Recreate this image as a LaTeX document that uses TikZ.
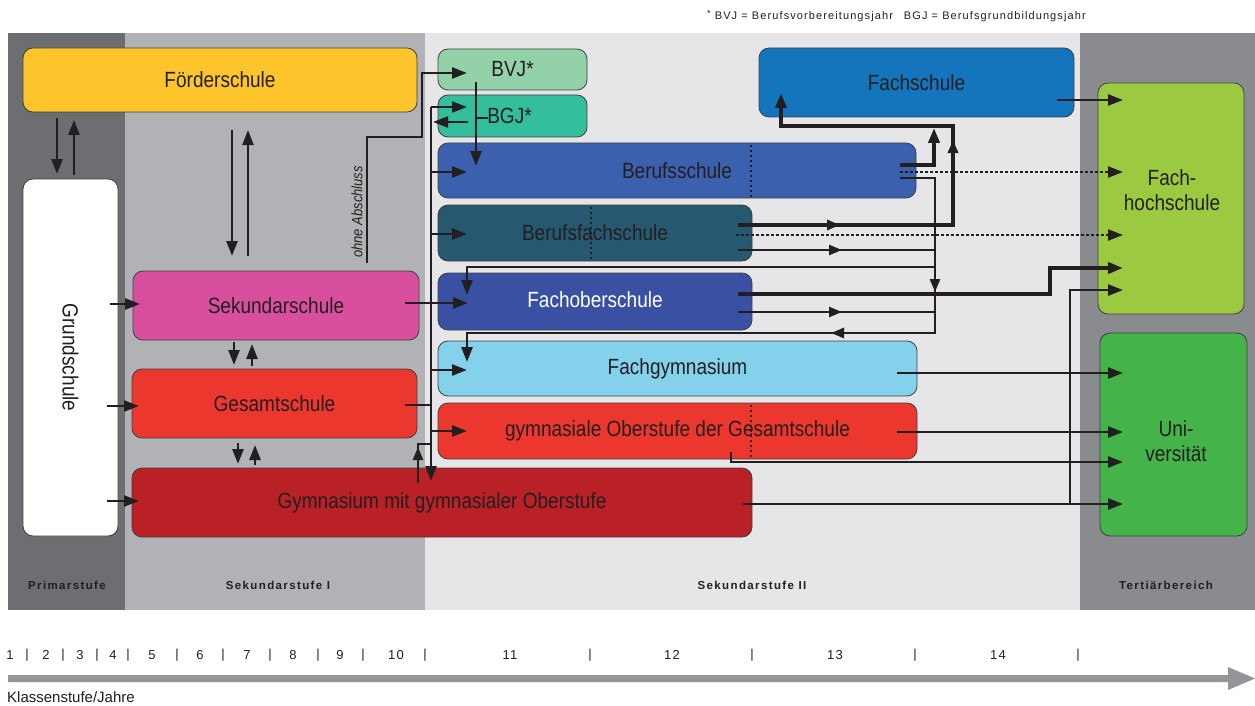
\documentclass[tikz,border=0pt]{standalone}
\usepackage{fontspec}
\setmainfont{Liberation Sans}
\newfontfamily\boxfont[FakeStretch=0.865]{Liberation Sans}
\newfontfamily\smallfont[LetterSpace=10]{Liberation Sans}
\newfontfamily\bandfont[LetterSpace=12]{Liberation Sans}
\usetikzlibrary{arrows.meta,decorations.markings}
\definecolor{primar}{HTML}{6D6E71}
\definecolor{sekone}{HTML}{B1B2B5}
\definecolor{sektwo}{HTML}{E6E6E8}
\definecolor{tert}{HTML}{8A8B8E}
\definecolor{txt}{HTML}{231F20}
\definecolor{ln}{HTML}{231F20}
\definecolor{boxline}{HTML}{404040}
\definecolor{cfoerder}{HTML}{FDC52B}
\definecolor{cbvj}{HTML}{93D2A9}
\definecolor{cbgj}{HTML}{33BE9C}
\definecolor{cbs}{HTML}{3A60AE}
\definecolor{cbfs}{HTML}{26586F}
\definecolor{cfos}{HTML}{3A50A3}
\definecolor{cfgym}{HTML}{84D1EC}
\definecolor{cred}{HTML}{EC372E}
\definecolor{cgym}{HTML}{B92126}
\definecolor{csek}{HTML}{D8509D}
\definecolor{cfs}{HTML}{1475BC}
\definecolor{cfh}{HTML}{9BCA41}
\definecolor{cuni}{HTML}{44B44A}
\definecolor{cbar}{HTML}{939598}
\begin{document}
\begin{tikzpicture}[x=1pt,y=-1pt,
  schoolbox/.style={draw=boxline, line width=0.8pt, rounded corners=10pt, inner sep=0pt, text=txt, font=\boxfont\fontsize{22}{25}\selectfont, align=center},
  boxtext/.style={text=txt, font=\boxfont\fontsize{22}{25}\selectfont, align=center, inner sep=0pt},
  connline/.style={line width=2.6pt, color=ln},
  thickline/.style={line width=3.8pt, color=ln},
  endarrow/.style={-{Triangle[length=15pt,width=11pt]}},
  dotconn/.style={line width=2.4pt, color=ln, dash pattern=on 3pt off 2pt},
  dotsep/.style={line width=1.6pt, color=ln, dash pattern=on 2pt off 3pt},
  midarrow/.style={postaction={decorate}, decoration={markings, mark=at position #1 with {\arrow{Triangle[length=13pt,width=10pt]}}}},
  midarrowtwo/.style 2 args={postaction={decorate}, decoration={markings, mark=at position #1 with {\arrow{Triangle[length=13pt,width=10pt]}}, mark=at position #2 with {\arrow{Triangle[length=13pt,width=10pt]}}}},
  bandlabel/.style={font=\bandfont\bfseries\fontsize{11.5}{13}\selectfont, text=txt},
  numlabel/.style={font=\smallfont\fontsize{13}{15}\selectfont, text=txt},
]
\useasboundingbox (0,0) rectangle (1255,706);
\fill[white] (0,0) rectangle (1255,706);
% bands
\fill[primar] (8,33) rectangle (125,610);
\fill[sekone] (125,33) rectangle (425,610);
\fill[sektwo] (425,33) rectangle (1080,610);
\fill[tert] (1080,33) rectangle (1255,610);
\node[bandlabel] (lprim) at (67,585) {Primarstufe};
\node[bandlabel] (lsek1) at (278,585) {Sekundarstufe I};
\node[bandlabel] (lsek2) at (752,585) {Sekundarstufe II};
\node[bandlabel] (ltert) at (1166,585) {Tertiärbereich};
% footnote
\node[anchor=west, inner sep=0pt, text=txt, font=\smallfont\fontsize{11}{12}\selectfont] (foot) at (707,16) {\raisebox{3pt}{\fontsize{9}{9}\selectfont *} BVJ = Berufsvorbereitungsjahr\hspace{11pt}BGJ = Berufsgrundbildungsjahr};
% boxes
\node[schoolbox, fill=cfoerder, minimum width=394pt, minimum height=64pt] (foerder) at (220,80) {Förderschule};
\node[schoolbox, fill=white, rotate=-90, minimum width=357pt, minimum height=95pt] (grund) at (70.5,357.5) {Grundschule};
\node[schoolbox, fill=csek, minimum width=286pt, minimum height=69pt] (sek) at (276,305.5) {Sekundarschule};
\node[schoolbox, fill=cred, minimum width=285pt, minimum height=69pt] (ges) at (274.5,403.5) {Gesamtschule};
\node[schoolbox, fill=cgym, minimum width=620pt, minimum height=69pt] (gym) at (442,502.5) {Gymnasium mit gymnasialer Oberstufe};
\node[schoolbox, fill=cbvj, minimum width=149pt, minimum height=41pt] (bvj) at (512.5,69.5) {BVJ*};
\node[schoolbox, fill=cbgj, minimum width=149pt, minimum height=42pt] (bgj) at (512.5,116) {\hspace{2pt}BGJ*\hspace{8pt}};
\node[schoolbox, fill=cbs, minimum width=478pt, minimum height=55pt] (bs) at (677,170.5) {Berufsschule};
\node[schoolbox, fill=cbfs, minimum width=314pt, minimum height=56pt] (bfs) at (595,233) {Berufsfachschule};
\node[schoolbox, fill=cfos, minimum width=314pt, minimum height=57pt, text=white] (fos) at (595,301.5) {\raisebox{3pt}{Fachoberschule}};
\node[schoolbox, fill=cfgym, minimum width=479pt, minimum height=55pt] (fgym) at (677.5,368.5) {Fachgymnasium};
\node[schoolbox, fill=cred, minimum width=479pt, minimum height=56pt] (gyo) at (677.5,431) {gymnasiale Oberstufe der Gesamtschule};
\node[schoolbox, fill=cfs, minimum width=315pt, minimum height=69pt] (fs) at (916.5,82.5) {Fachschule};
\node[schoolbox, fill=cfh, minimum width=146pt, minimum height=231pt] (fh) at (1171,198.5) {};
\node[boxtext] (fhtext) at (1172,190) {Fach-\\hochschule};
\node[schoolbox, fill=cuni, minimum width=147pt, minimum height=203pt] (uni) at (1173.5,434.5) {};
\node[boxtext] (unitext) at (1176,441) {Uni-\\versität};
% dotted separators inside boxes
\draw[dotsep] (751,145) -- (751,197);
\draw[dotsep] (591,207) -- (591,260);
\draw[dotsep] (751,405) -- (751,459);
% ---------- left connectors
\coordinate (a1) at (57,118);  \coordinate (a2) at (57,174);
\coordinate (b1) at (74,175);  \coordinate (b2) at (74,120);
\coordinate (c1) at (232,130); \coordinate (c2) at (232,256);
\coordinate (d1) at (248,256); \coordinate (d2) at (248,130);
\coordinate (e1) at (234,342); \coordinate (e2) at (234,365);
\coordinate (f1) at (252,366); \coordinate (f2) at (252,344);
\coordinate (g1) at (238,443); \coordinate (g2) at (238,464);
\coordinate (h1) at (255,465); \coordinate (h2) at (255,445);
\draw[connline,endarrow] (a1) -- (a2);
\draw[connline,endarrow] (b1) -- (b2);
\draw[connline,endarrow] (c1) -- (c2);
\draw[connline,endarrow] (d1) -- (d2);
\draw[connline,endarrow] (e1) -- (e2);
\draw[connline,endarrow] (f1) -- (f2);
\draw[connline,endarrow] (g1) -- (g2);
\draw[connline,endarrow] (h1) -- (h2);
\coordinate (gs1) at (110,304); \coordinate (gs2) at (140,304);
\coordinate (gg1) at (107,406); \coordinate (gg2) at (139,406);
\coordinate (gy1) at (107,501); \coordinate (gy2) at (139,501);
\draw[connline,endarrow] (gs1) -- (gs2);
\draw[connline,endarrow] (gg1) -- (gg2);
\draw[connline,endarrow] (gy1) -- (gy2);
% ohne Abschluss
\coordinate (oa1) at (367,263); \coordinate (oa2) at (467,73);
\draw[connline,endarrow] (oa1) -- (367,137) -- (422,137) -- (422,73) -- (oa2);
\node[rotate=90, inner sep=0pt, text=txt, font=\boxfont\itshape\fontsize{15}{17}\selectfont] (ohne) at (357,212) {ohne Abschluss};
% bus
\coordinate (bus0) at (431,107); \coordinate (busend) at (431,481);
\coordinate (tobgj) at (467,107);
\draw[connline,endarrow] (bus0) -- (tobgj);
\draw[connline,endarrow] (bus0) -- (busend);
\coordinate (fbgj1) at (468,122); \coordinate (fbgj2) at (433,122);
\draw[connline,endarrow] (fbgj1) -- (fbgj2);
\coordinate (tobs1) at (431,172); \coordinate (tobs2) at (467,172);
\draw[connline,endarrow] (tobs1) -- (tobs2);
\coordinate (tobfs1) at (431,234); \coordinate (tobfs2) at (467,234);
\draw[connline,endarrow] (tobfs1) -- (tobfs2);
\coordinate (sekout) at (405,303); \coordinate (tofos) at (468,303);
\draw[connline,endarrow] (sekout) -- (tofos);
\coordinate (tofg1) at (431,370); \coordinate (tofg2) at (467,370);
\draw[connline,endarrow] (tofg1) -- (tofg2);
\coordinate (gesout) at (405,405); \coordinate (gesbus) at (431,405);
\draw[connline] (gesout) -- (gesbus);
\coordinate (togyo1) at (431,431); \coordinate (togyo2) at (467,431);
\draw[connline,endarrow] (togyo1) -- (togyo2);
\coordinate (gymup) at (418,483); \coordinate (gymbus) at (431,444);
\draw[connline,midarrow=36pt] (gymup) -- (418,444) -- (gymbus);
% BVJ down to Berufsschule
\coordinate (bvjd1) at (476,82); \coordinate (bvjd2) at (476,166);
\draw[connline,endarrow] (bvjd1) -- (bvjd2);
\coordinate (bgjt) at (488,118); \coordinate (bgjj) at (476,118);
\draw[connline] (bgjj) -- (bgjt);
% ---------- right connectors
\coordinate (r1a) at (900,165); \coordinate (r1b) at (934,128);
\draw[thickline,endarrow] (r1a) -- (934,165) -- (r1b);
\coordinate (r2a) at (900,178); \coordinate (r2b) at (467,362);
\draw[connline,endarrow,midarrowtwo={149pt}{294pt}] (r2a) -- (935,178) -- (935,333) -- (467,333) -- (r2b);
\coordinate (r3a) at (738,225); \coordinate (r3b) at (781,93);
\draw[thickline,endarrow,midarrowtwo={102pt}{300pt}] (r3a) -- (953,225) -- (953,126) -- (781,126) -- (r3b);
\coordinate (r4a) at (736,235); \coordinate (r4b) at (1123,235);
\draw[dotconn,endarrow] (r4a) -- (r4b);
\coordinate (r5a) at (738,250); \coordinate (r5b) at (935,250);
\draw[connline,midarrow=104pt] (r5a) -- (r5b);
\coordinate (r6a) at (935,267); \coordinate (r6b) at (467,295);
\draw[connline,endarrow] (r6a) -- (467,267) -- (r6b);
\coordinate (r7a) at (738,294); \coordinate (r7b) at (1123,268);
\draw[thickline,endarrow] (r7a) -- (1050,294) -- (1050,268) -- (r7b);
\coordinate (r8a) at (738,312); \coordinate (r8b) at (935,312);
\draw[connline,midarrow=104pt] (r8a) -- (r8b);
\coordinate (r9a) at (900,172); \coordinate (r9b) at (1123,172);
\draw[dotconn,endarrow] (r9a) -- (r9b);
\coordinate (r10a) at (1057,100); \coordinate (r10b) at (1123,100);
\draw[connline,endarrow] (r10a) -- (r10b);
\coordinate (r11a) at (897,373); \coordinate (r11b) at (1123,373);
\draw[connline,endarrow] (r11a) -- (r11b);
\coordinate (r12a) at (897,432); \coordinate (r12b) at (1123,432);
\draw[connline,endarrow] (r12a) -- (r12b);
\coordinate (r13a) at (731,452); \coordinate (r13b) at (1123,462);
\draw[connline,endarrow] (r13a) -- (731,462) -- (r13b);
\coordinate (r14a) at (743,504); \coordinate (r14b) at (1123,504);
\draw[connline,endarrow] (r14a) -- (r14b);
\coordinate (r15a) at (1070,504); \coordinate (r15b) at (1123,290);
\draw[connline,endarrow] (r15a) -- (1070,290) -- (r15b);
% ---------- scale
\foreach \t/\x [count=\i] in {1/10,|/27,2/46,|/63,3/80,|/97,4/113,|/128,5/152,|/177,6/200,|/223,7/247,|/270,8/293,|/318,9/340,|/363,10/396,|/425,11/510,|/590,12/672,|/752,13/835,|/915,14/998,|/1078}
  \node[numlabel] (n\i) at (\x,655) {\t};
\fill[cbar] (8,675) -- (1228,675) -- (1228,667) -- (1255,678.5) -- (1228,690) -- (1228,682) -- (8,682) -- cycle;
\node[anchor=west, inner sep=0pt, text=txt, font=\fontsize{15}{17}\selectfont] (klasse) at (7,697) {Klassenstufe/Jahre};
\end{tikzpicture}
\end{document}
